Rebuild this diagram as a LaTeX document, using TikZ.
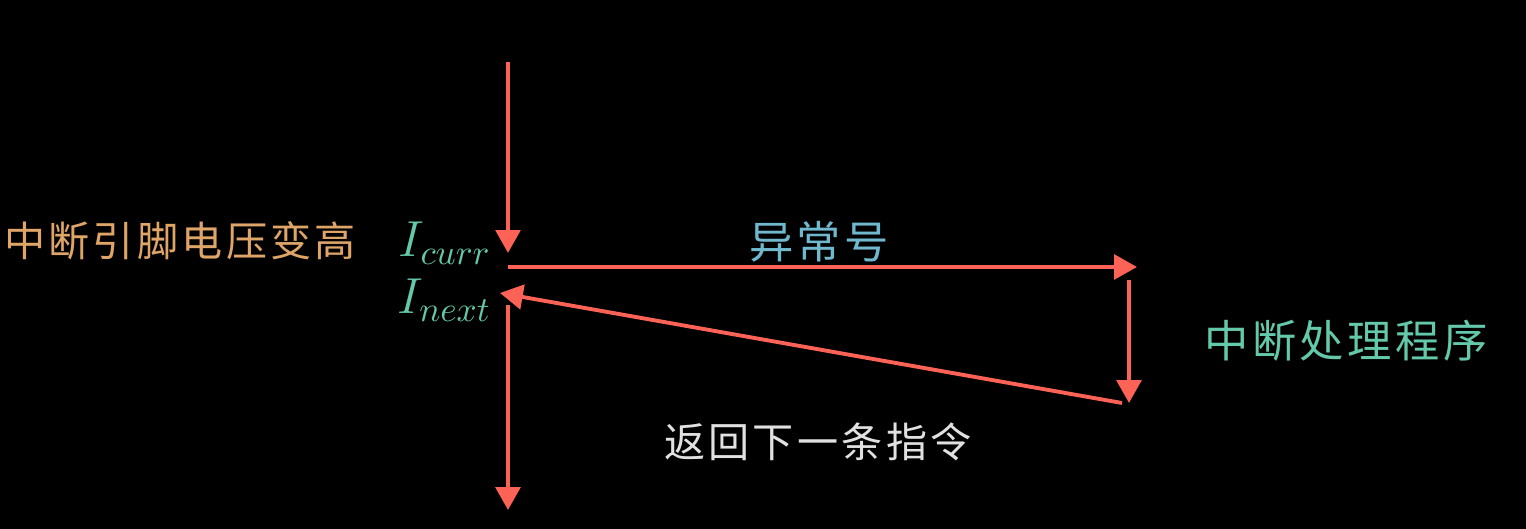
\documentclass[tikz,border=0pt]{standalone}
\usepackage{fontspec}
\newfontfamily\cjk[LetterSpace=8]{Noto Sans CJK SC}
\usetikzlibrary{
	arrows.meta,
	positioning
}
\definecolor{ArrowRed}{RGB}{252,98,85}
\definecolor{PinGold}{RGB}{222,164,104}
\definecolor{InstTeal}{RGB}{100,200,170}
\definecolor{NumBlue}{RGB}{112,184,206}
\definecolor{RetWhite}{RGB}{225,225,225}

\begin{document}
\begin{tikzpicture}[
		flow/.style={ArrowRed, line width=1.1pt, -{Triangle[length=6.5pt,width=7pt]}},
		cjklabel/.style={font=\cjk\fontsize{11.7}{13}\selectfont, inner sep=0pt},
		cjkbig/.style={font=\cjk\fontsize{12.6}{14}\selectfont, inner sep=0pt},
		instr/.style={InstTeal, font=\fontsize{14}{16}\selectfont, inner sep=0pt, anchor=east}
	]
		\fill[black] (0,0) rectangle (15.26,5.29);
		
		\coordinate (start) at (5.08,4.67);
		\coordinate (curr) at (5.08,2.62);
		\coordinate (vec) at (11.37,2.62);
		\coordinate (isrtop) at (11.29,2.49);
		\coordinate (isrend) at (11.29,1.26);
		\coordinate (back) at (11.22,1.26);
		\coordinate (next) at (5.00,2.36);
		\coordinate (cont) at (5.08,2.24);
		\coordinate (end) at (5.08,0.19);
		
		\draw[flow] (start) -- ([yshift=4pt]curr);
		\draw[flow] (curr) -- (vec);
		\draw[flow] (isrtop) -- (isrend);
		\draw[flow] (back) -- (next);
		\draw[flow] (cont) -- (end);
		
		\node[instr] (icurr) at (4.92,2.86) {$I_{curr}$};
		\node[instr] (inext) at (4.92,2.29) {$I_{next}$};
		
		\node[cjklabel, PinGold] (pin) at (1.80,2.88) {中断引脚电压变高};
		\node[cjkbig, NumBlue] (num) at (8.19,2.87) {异常号};
		\node[cjkbig, InstTeal] (isr) at (13.46,1.88) {中断处理程序};
		\node[cjklabel, RetWhite] (ret) at (8.18,0.87) {返回下一条指令};
	\end{tikzpicture}
\end{document}
